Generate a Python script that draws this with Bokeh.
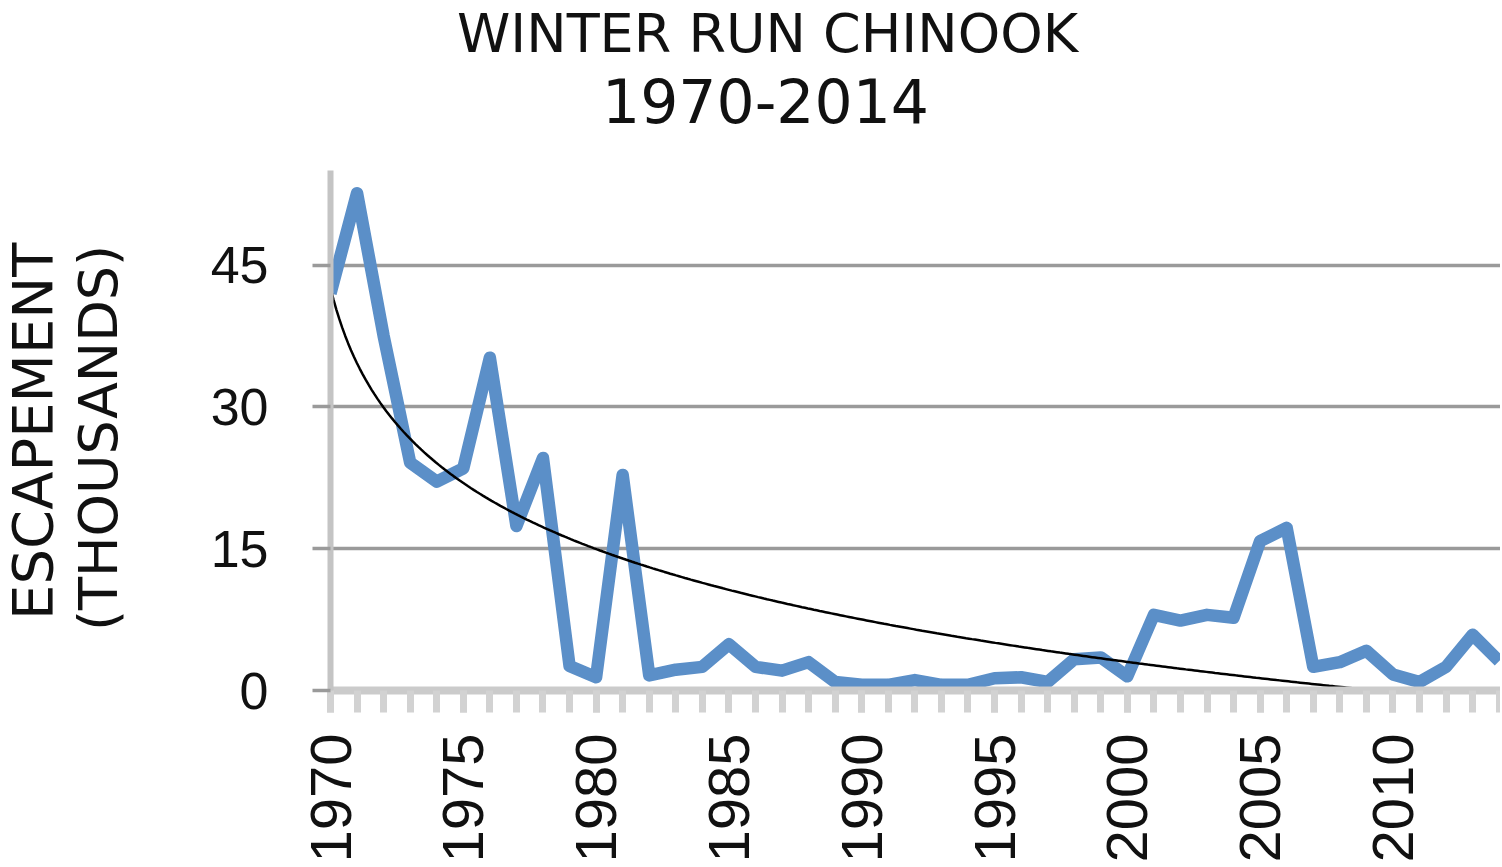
import numpy as np
from bokeh.plotting import figure
from bokeh.layouts import column, row
from bokeh.models import Range1d, FixedTicker, SingleIntervalTicker
from bokeh.core.properties import value
from bokeh.embed import file_html
from bokeh.resources import INLINE

# ---- data (thousands of fish) ----
years = list(range(1970, 2015))
escapement = [42.0, 52.6, 37.5, 24.1, 22.1, 23.5, 35.2, 17.4, 24.6, 2.6,
              1.4, 22.8, 1.6, 2.2, 2.5, 4.9, 2.5, 2.1, 3.0, 0.9,
              0.6, 0.6, 1.1, 0.6, 0.6, 1.3, 1.4, 0.9, 3.3, 3.5,
              1.5, 8.0, 7.4, 8.0, 7.7, 15.8, 17.2, 2.5, 3.0, 4.2,
              1.7, 0.9, 2.5, 5.9, 3.1]
y_ticks = [0, 15, 30, 45]
x_tick_interval = 5
title_line1 = "WINTER RUN CHINOOK"
title_line2 = "1970-2014"
ylabel_line1 = "ESCAPEMENT"
ylabel_line2 = "(THOUSANDS)"

# logarithmic trendline (least squares on ln of the series index, as a spreadsheet does)
idx = np.arange(1, len(escapement) + 1)
slope, intercept = np.polyfit(np.log(idx), np.array(escapement), 1)
t = np.linspace(1, len(escapement), 400)
trend_x = years[0] - 1 + t
trend_y = intercept + slope * np.log(t)

TOTAL_W, HEAD_H, BODY_H, LEFT_W = 1500, 170, 696, 180
TEXT_COLOR = "#111111"


def blank(width, height):
    f = figure(width=width, height=height, output_backend="svg", toolbar_location=None,
               x_range=Range1d(0, width), y_range=Range1d(0, height),
               x_axis_location=None, y_axis_location=None,
               min_border=0, min_border_left=0, min_border_right=0,
               min_border_top=0, min_border_bottom=0)
    f.outline_line_color = None
    f.xgrid.visible = False
    f.ygrid.visible = False
    return f


# ---- header with the two title lines ----
head = blank(TOTAL_W, HEAD_H)
head.text(x=[767], y=[137], text=[title_line1], text_align="center",
          text_baseline="alphabetic", text_font=value("DejaVu Sans"),
          text_font_size=value("54px"), text_color=TEXT_COLOR)
head.text(x=[765], y=[70], text=[title_line2], text_align="center",
          text_baseline="alphabetic", text_font=value("DejaVu Sans"),
          text_font_size=value("60px"), text_color=TEXT_COLOR)

# ---- left strip with the rotated y-axis title ----
left = blank(LEFT_W, BODY_H)
left.text(x=[32], y=[347], text=[ylabel_line1], angle=np.pi / 2,
          text_align="center", text_baseline="alphabetic",
          text_font=value("DejaVu Sans"), text_font_size=value("56px"),
          text_color=TEXT_COLOR)
left.text(x=[98], y=[338], text=[ylabel_line2], angle=np.pi / 2,
          text_align="center", text_baseline="alphabetic",
          text_font=value("DejaVu Sans"), text_font_size=value("54px"),
          text_color=TEXT_COLOR)

# ---- main chart ----
p = figure(width=TOTAL_W - LEFT_W, height=BODY_H, output_backend="svg", toolbar_location=None,
           x_range=Range1d(1970, 2014.05), y_range=Range1d(0, 55),
           min_border_left=330 - LEFT_W, min_border_right=0, min_border_top=0,
           min_border_bottom=176)
p.outline_line_color = None
p.background_fill_color = "white"
p.border_fill_color = "white"

p.xgrid.visible = False
p.ygrid.ticker = FixedTicker(ticks=y_ticks)
p.ygrid.grid_line_color = "#9a9a9a"
p.ygrid.grid_line_width = 3.5

p.line(years, escapement, line_color="#5b8fc8", line_width=12.5, line_join="round")
p.line(trend_x, trend_y, line_color="black", line_width=2.5)

ya = p.yaxis[0]
ya.ticker = FixedTicker(ticks=y_ticks)
ya.axis_line_color = "#c4c4c4"
ya.axis_line_width = 6
ya.major_tick_line_color = "#9a9a9a"
ya.major_tick_line_width = 3.5
ya.major_tick_out = 18
ya.major_tick_in = 0
ya.minor_tick_line_color = None
ya.major_label_standoff = 44
ya.major_label_text_font = "Liberation Sans"
ya.major_label_text_font_size = "52px"
ya.major_label_text_color = TEXT_COLOR

xa = p.xaxis[0]
xa.ticker = SingleIntervalTicker(interval=x_tick_interval, num_minor_ticks=x_tick_interval)
xa.axis_line_color = "#cbcbcb"
xa.axis_line_width = 8
xa.major_tick_line_color = "#d2d2d2"
xa.major_tick_line_width = 7
xa.major_tick_out = 22
xa.major_tick_in = 0
xa.minor_tick_line_color = "#d2d2d2"
xa.minor_tick_line_width = 7
xa.minor_tick_out = 22
xa.minor_tick_in = 0
xa.major_label_orientation = np.pi / 2
xa.major_label_standoff = 21
xa.major_label_text_font = "Liberation Sans"
xa.major_label_text_font_size = "58px"
xa.major_label_text_color = TEXT_COLOR

layout = column(head, row(left, p, spacing=0), spacing=0)
open("out.html", "w").write(file_html(layout, INLINE))
